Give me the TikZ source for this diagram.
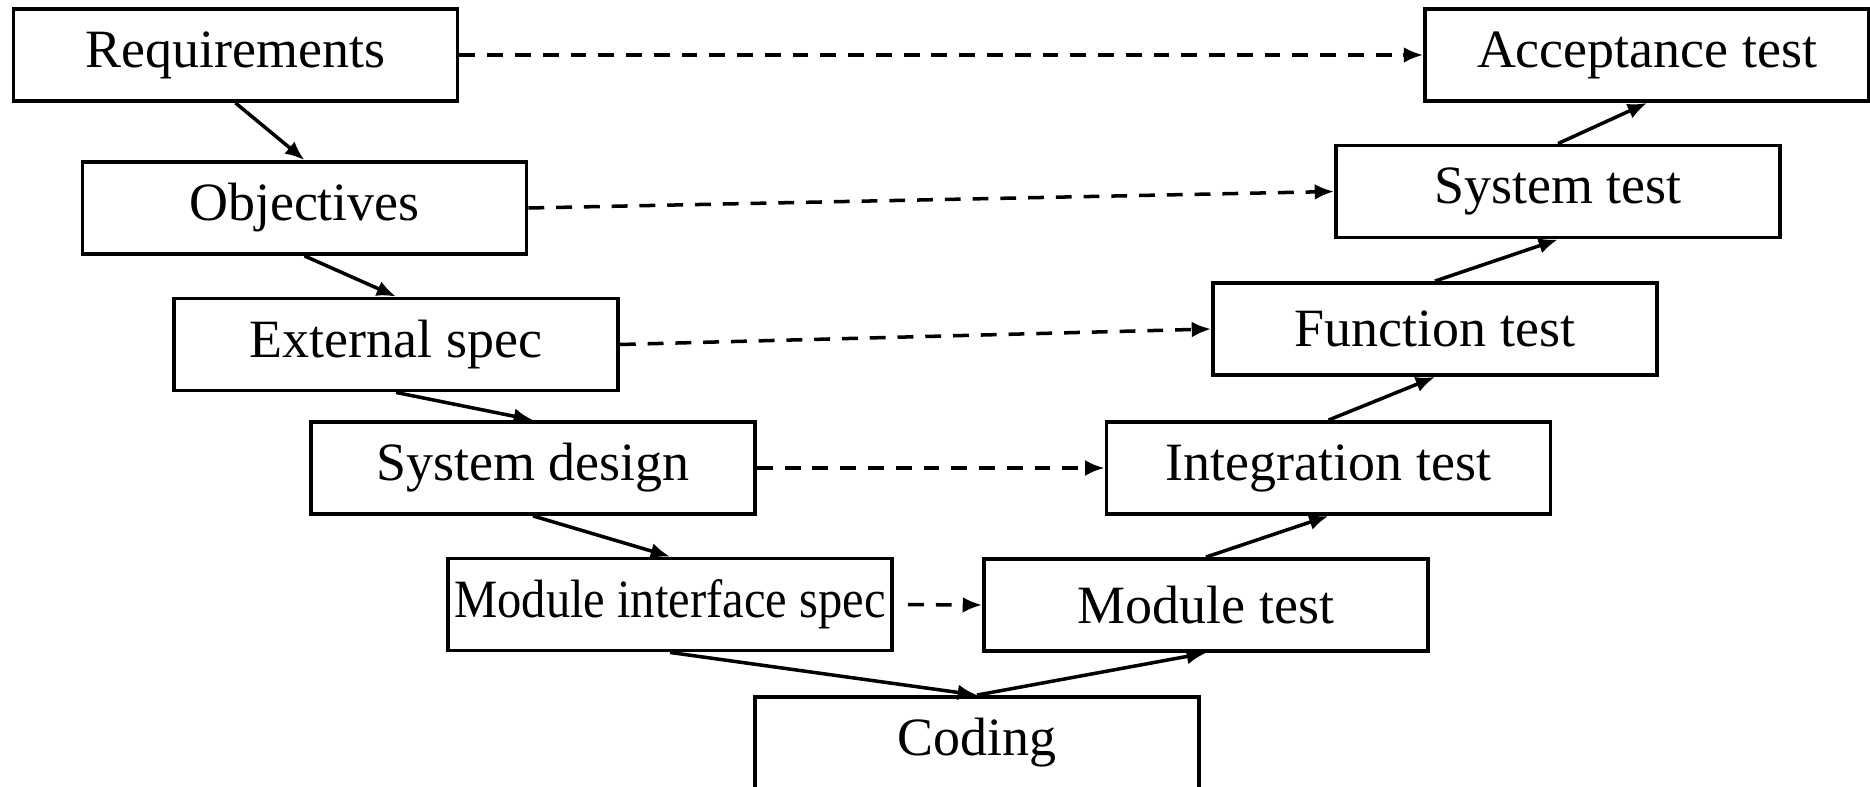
\documentclass[tikz,border=0pt]{standalone}
\usepackage{fontspec}
\setmainfont{Liberation Serif}
\usepackage{graphicx}
\usetikzlibrary{arrows.meta}
\begin{document}
\begin{tikzpicture}[
		stage/.style={draw, line width=2.2pt, minimum width=8.88cm, minimum height=1.84cm, inner sep=0pt, font=\fontsize{30.7}{36}\selectfont},
		flow/.style={line width=2pt, -{Latex[length=11pt,width=9pt]}},
		trace/.style={flow, dash pattern=on 9pt off 6.8pt}
	]
	\useasboundingbox (0,0) rectangle (37.4,-15.74);
	% left leg
	\node[stage] (req) at (4.71,-1.10) {Requirements};
	\node[stage] (obj) at (6.09,-4.16) {Objectives};
	\node[stage] (ext) at (7.92,-6.89) {External spec};
	\node[stage] (sysd) at (10.66,-9.36) {System design};
	\node[stage] (mis) at (13.40,-12.09) {\scalebox{0.9}[1]{Module interface spec}};
	\node[stage] (cod) at (19.54,-14.86) {Coding};
	% right leg
	\node[stage] (modt) at (24.12,-12.10) {Module test};
	\node[stage] (intt) at (26.57,-9.36) {Integration test};
	\node[stage] (funt) at (28.70,-6.58) {Function test};
	\node[stage] (syst) at (31.16,-3.83) {System test};
	\node[stage] (acct) at (32.94,-1.10) {Acceptance test};
	\foreach \a/\b in {req/obj, obj/ext, ext/sysd, sysd/mis, mis/cod}
		\draw[flow] (\a.south) -- (\b.north);
	\foreach \a/\b in {cod/modt, modt/intt, intt/funt, funt/syst, syst/acct}
		\draw[flow] (\a.north) -- (\b.south);
	\foreach \a/\b in {req/acct, obj/syst, ext/funt, sysd/intt}
		\draw[trace] (\a.east) -- (\b.west);
	\draw[trace, shorten <=8pt] (mis.east) -- (modt.west);
\end{tikzpicture}
\end{document}
